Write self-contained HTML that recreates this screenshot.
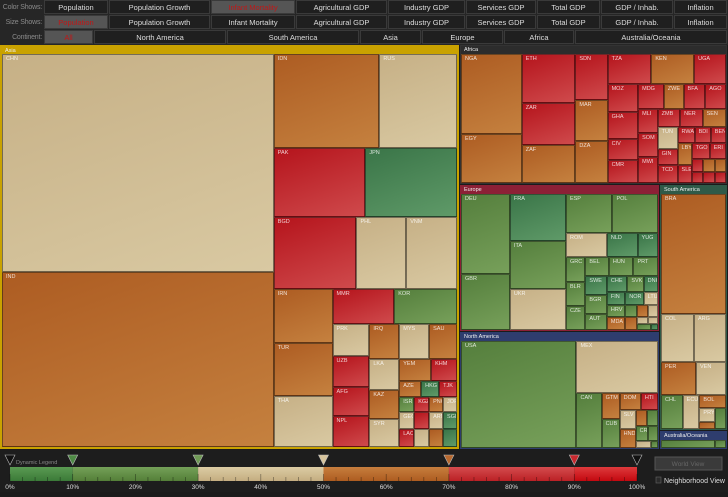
<!DOCTYPE html>
<html><head><meta charset="utf-8">
<style>
*{box-sizing:border-box;margin:0;padding:0}
body{width:728px;height:492px;background:#1b1b1b;font-family:"Liberation Sans",sans-serif;overflow:hidden;position:relative}
.row{position:absolute;left:0;width:728px;height:15px;background:#262626}
.lab{position:absolute;left:0;width:42px;height:15px;line-height:15px;text-align:right;color:#8a8a8a;font-size:7px;white-space:nowrap;letter-spacing:-0.2px}
.btn{position:absolute;height:14px;top:0;line-height:14px;text-align:center;color:#ddd;font-size:7.5px;background:#1f1f1f;border:1px solid #3a3a3a;white-space:nowrap;overflow:hidden}
.btn.sel{background:#555;color:#c01818}
.t{position:absolute;border:1px solid rgba(0,0,0,.45);overflow:hidden}
.t span{position:absolute;left:3px;top:1px;font-size:5.5px;color:rgba(255,255,255,.8);white-space:nowrap}
.fr{position:absolute}
.fr .hd{position:absolute;left:0;top:0;right:0;height:9px;font-size:5.5px;color:#eee;padding-left:3px;line-height:9px;white-space:nowrap;overflow:hidden}
</style></head><body>
<div id="bar"></div>
<div id="map" style="position:absolute;left:0;top:0;width:728px;height:492px;pointer-events:none"></div>
<div id="legend" style="position:absolute;left:0;top:450px;width:728px;height:42px;background:#1d1d1d"></div>
<script>
const rowLabels=['Color Shows:','Size Shows:','Continent:'];
const metricNames=['Population','Population Growth','Infant Mortality','Agricultural GDP','Industry GDP','Services GDP','Total GDP','GDP / Inhab.','Inflation'];
const metricEdges=[44,109,211,296,388,466,537,601,674,728];
const contNames=['All','North America','South America','Asia','Europe','Africa','Australia/Oceania'];
const contEdges=[44,94,227,360,422,504,575,728];
const bar=document.getElementById('bar');
function mkRow(i,names,edges,sel){
  const r=document.createElement('div');r.className='row';r.style.top=(i*15)+'px';
  
  
  const l=document.createElement('div');l.className='lab';l.textContent=rowLabels[i];
  
  
  r.appendChild(l);
  names.forEach((n,k)=>{const b=document.createElement('div');b.className='btn'+(k===sel?' sel':'');
    b.style.left=edges[k]+'px';b.style.width=(edges[k+1]-edges[k]-1)+'px';b.textContent=n;
    
    
    r.appendChild(b);});
  bar.appendChild(r);
}
mkRow(0,metricNames,metricEdges,2);mkRow(1,metricNames,metricEdges,0);mkRow(2,contNames,contEdges,0);

const COLORS={t:['#c6b086','#d9c9a2'],o:['#ad5c22','#c5813f'],r:['#b5141c','#cf4a4c'],g:['#557f3d','#77a05a'],G:['#3a7548','#5f9a68']};
function L(n,v,k){return {n:n,v:v,k:k};}
function H(c){return {d:'h',c:c};}
function V(c){return {d:'v',c:c};}
function G(name,v,col,child,bw){return {group:name,v:v,col:col,child:child,bw:bw||1};}

// Asia
const aTiny=V([H([L('YEM',704,'o'),L('KHM',572,'r')]),H([L('AZE',352,'o'),L('HKG',288,'G'),L('TJK',288,'r')]),H([L('ISR',225,'g'),L('KGZ',225,'r'),L('PNG',210,'o'),L('JOR',210,'t')]),H([L('GEO',255,'t'),L('',255,'r'),L('ARM',238,'t'),L('SGP',238,'G')]),H([L('LAO',270,'r'),L('',270,'t'),L('',252,'o'),L('',252,'G')])]);
const aSmall=V([H([L('IRQ',1050,'o'),L('MYS',1050,'t'),L('SAU',980,'o')]),H([V([L('LKA',930,'t'),L('KAZ',870,'o'),L('SYR',840,'t')]),aTiny])]);
const aMid=V([H([L('MMR',2170,'r'),L('KOR',2205,'g')]),H([V([L('PRK',1184,'t'),L('UZB',1147,'r'),L('AFG',1073,'r'),L('NPL',1147,'r')]),aSmall])]);
const aBottom=H([V([L('IRN',3186,'o'),L('TUR',3127,'o'),L('THA',3009,'t')]),aMid]);
const asia=H([V([L('CHN',59787,'t'),L('IND',47775,'o')]),V([H([L('IDN',9964,'o'),L('RUS',7332,'t')]),H([L('PAK',6348,'r'),L('JPN',6348,'G')]),H([L('BGD',6059,'r'),L('PHL',3650,'t'),L('VNM',3723,'t')]),aBottom])]);

// Africa
const afTiny=V([H([L('TGO',280,'r'),L('ERI',252,'r')]),H([V([L('',140,'r'),L('',126,'r')]),V([L('',140,'o'),L('',126,'r')]),V([L('',140,'o'),L('',126,'r')])])]);
const afD=V([H([L('RWA',270,'r'),L('BDI',255,'r'),L('BEN',240,'r')]),H([V([L('LBY',299,'o'),L('SLE',247,'r')]),afTiny])]);
const afC=V([H([L('ZMB',414,'r'),L('NER',414,'r'),L('SEN',432,'o')]),H([V([L('TUN',418,'t'),L('GIN',323,'r'),L('TCD',342,'r')]),afD])]);
const afB=V([H([L('MDG',624,'r'),L('ZWE',480,'o'),L('BFA',528,'r'),L('AGO',504,'r')]),H([V([L('MLI',475,'r'),L('SOM',456,'r'),L('MWI',494,'r')]),afC])]);
const afA=V([H([L('TZA',1276,'r'),L('KEN',1247,'o'),L('UGA',928,'r')]),H([V([L('MOZ',840,'r'),L('GHA',810,'r'),L('CIV',630,'r'),L('CMR',690,'r')]),afB])]);
const africa=H([V([L('NGA',4740,'o'),L('EGY',2940,'o')]),V([L('ETH',2597,'r'),L('ZAR',2173,'r'),L('ZAF',2014,'o')]),V([L('SDN',1440,'r'),L('MAR',1312,'o'),L('DZA',1312,'o')]),afA]);

// Europe
const euT=H([V([L('IRL',132,'g'),L('ALB',143,'o')]),V([H([L('',132,'o'),L('',120,'t')]),H([L('',77,'t'),L('',70,'t')]),H([L('SVN',84,'g'),L('',42,'G')])])]);
const euS=V([H([L('NOR',234,'G'),L('LTU',182,'t')]),euT]);
const euR=V([H([L('CHE',320,'G'),L('SVK',256,'g'),L('DNK',224,'G')]),H([V([L('FIN',234,'G'),L('HRV',216,'g'),L('MDA',234,'o')]),euS])]);
const euQ=V([H([L('BEL',437,'g'),L('HUN',456,'g'),L('PRT',456,'g')]),H([V([L('SWE',399,'G'),L('BGR',399,'g'),L('AUT',336,'g')]),euR])]);
const europe=H([V([L('DEU',3792,'g'),L('GBR',2688,'g')]),V([L('FRA',2585,'G'),L('ITA',2585,'g'),L('UKR',2255,'t')]),V([H([L('ESP',1748,'g'),L('POL',1710,'g')]),H([L('ROM',960,'t'),L('NLD',720,'G'),L('YUG',480,'G')]),H([V([L('GRC',475,'g'),L('BLR',456,'g'),L('CZE',456,'g')]),euQ])])]);

// North America
const naS=V([H([L('NIC',176,'o'),L('PRI',176,'g')]),H([L('CRI',200,'g'),L('',150,'g')]),H([L('PAN',100,'t'),L('',50,'g')])]);
const naR=V([H([L('DOM',357,'o'),L('HTI',289,'r')]),H([V([L('SLV',304,'t'),L('HND',304,'o')]),naS])]);
const namer=H([L('USA',12305,'g'),V([L('MEX',4212,'t'),H([L('CAN',1375,'g'),V([L('GTM',468,'o'),L('CUB',522,'g')]),naR])])]);

// South America / Oceania
const saBol=V([L('BOL',324,'o'),H([V([L('PRY',224,'t'),L('',112,'o')]),L('',231,'g')])]);
const samer=V([L('BRA',7722,'o'),H([L('COL',1584,'t'),L('ARG',1536,'t')]),H([L('PER',1155,'o'),L('VEN',990,'t')]),H([L('CHL',726,'g'),L('ECU',561,'t'),saBol])]);
const ocean=H([L('AUS',495,'g'),L('',99,'g')]);

const rightLow=H([V([G('Europe',29400,'#8c2036',europe),G('North America',23600,'#2e3d6e',namer)]),V([G('South America',16728,'#2f5a48',samer),G('Australia/Oceania',1292,'#2e3d6e',ocean)])]);
const world=H([G('Asia',186300,'#c9a200',asia,2),V([G('Africa',37520,'#2c2c2c',africa),rightLow])]);

function val(n){if(n.v!==undefined)return n.v;return n.c.reduce(function(s,c){return s+val(c);},0);}
const map=document.getElementById('map');
function lay(n,x,y,w,h){
  if(n.group){
    const f=document.createElement('div');f.className='fr';
    
    
    const bc=n.col==='#2c2c2c'?'#333':n.col;
    f.style.cssText='left:'+x+'px;top:'+y+'px;width:'+(w-1)+'px;height:'+(h-1)+'px;border:'+n.bw+'px solid '+bc+';background:#1e1e1e';
    const hd=document.createElement('div');hd.className='hd';hd.style.background=n.col;hd.textContent=n.group;
    
    
    f.appendChild(hd);map.appendChild(f);
    const b=n.bw;lay(n.child,x+b,y+9,w-1-2*b,h-10-b);return;
  }
  if(n.n!==undefined){
    const d=document.createElement('div');d.className='t';
    
    
    const c=COLORS[n.k];
    d.style.cssText='left:'+x+'px;top:'+y+'px;width:'+w+'px;height:'+h+'px;background:linear-gradient(160deg,'+c[0]+','+c[1]+')';
    if(n.n&&w>12&&h>8){const s=document.createElement('span');s.textContent=n.n;d.appendChild(s);}
    map.appendChild(d);return;
  }
  const tot=val(n);let p=0;
  n.c.forEach(function(ch){const f=val(ch)/tot;
    if(n.d==='h'){const cw=w*f;lay(ch,x+p,y,cw,h);p+=cw;}
    else{const chh=h*f;lay(ch,x,y+p,w,chh);p+=chh;}});
}
lay(world,0,45,728,405);

// legend
const stops=[0,10,30,50,70,90,100];
const segColors=[['#3b7a38','#5a9a52'],['#547f38','#74a058'],['#c4ad80','#dccca4'],['#ad5c20','#c77e3e'],['#bb2025','#d44c4e'],['#c3080f','#de3a3c']];
const markerColors=['#111','#4e8a45','#6f9a55','#d6c49c','#b8692f','#c8282e','#111'];
const tickLabels=['0%','10%','20%','30%','40%','50%','60%','70%','80%','90%','100%'];
const lg=document.getElementById('legend');
function X(p){return 10+p*6.27;}
let svg='<svg width="728" height="42" xmlns="http://www.w3.org/2000/svg"><defs>';
for(let i=0;i<segColors.length;i++){svg+='<linearGradient id="s'+i+'" x1="0" y1="0" x2="0" y2="1"><stop offset="0" stop-color="'+segColors[i][1]+'"/><stop offset="1" stop-color="'+segColors[i][0]+'"/></linearGradient>';}
svg+='</defs>';
for(let i=0;i<segColors.length;i++){svg+='<rect x="'+X(stops[i])+'" y="17" width="'+(X(stops[i+1])-X(stops[i]))+'" height="14" fill="url(#s'+i+')"/>';}
for(let p=0;p<=100;p+=2){svg+='<line x1="'+X(p)+'" x2="'+X(p)+'" y1="'+(p%10===0?24:27)+'" y2="31" stroke="rgba(0,0,0,.45)" stroke-width="0.7"/>';}
tickLabels.forEach(function(t,i){svg+='<text x="'+X(i*10)+'" y="39" font-size="6.5" fill="#ddd" text-anchor="middle" font-family="Liberation Sans">'+t+'</text>';});
stops.forEach(function(s,i){const x=X(s);svg+='<polygon points="'+(x-5)+',5 '+(x+5)+',5 '+x+',15" fill="'+markerColors[i]+'" stroke="#bbb" stroke-width="0.6"/>';});
svg+='<text x="16" y="14" font-size="5.5" fill="#888" font-family="Liberation Sans">Dynamic Legend</text>';
svg+='<rect x="655" y="7" width="67" height="13" fill="#3a3a3a" stroke="#555"/><text x="688" y="16" font-size="6.5" fill="#666" text-anchor="middle" font-family="Liberation Sans">World View</text>';
svg+='<rect x="656" y="27" width="5" height="6" fill="#2a2a2a" stroke="#666" stroke-width="0.6"/><text x="664" y="33" font-size="7" fill="#ddd" font-family="Liberation Sans">Neighborhood View</text>';
svg+='</svg>';
lg.innerHTML=svg;
</script>
</body></html>
